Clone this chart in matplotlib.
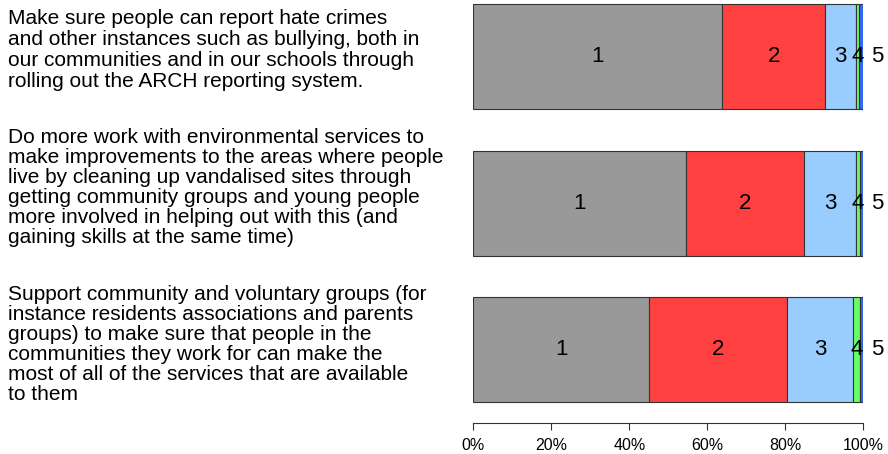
import numpy as np
import matplotlib
matplotlib.use("Agg")
import matplotlib.pyplot as plt

plt.rcParams['font.family'] = ['Liberation Sans', 'DejaVu Sans']

# Survey statements (left hand text), already wrapped like the original
statements = [
    ["Make sure people can report hate crimes",
     "and other instances such as bullying, both in",
     "our communities and in our schools through",
     "rolling out the ARCH reporting system."],
    ["Do more work with environmental services to",
     "make improvements to the areas where people",
     "live by cleaning up vandalised sites through",
     "getting community groups and young people",
     "more involved in helping out with this (and",
     "gaining skills at the same time)"],
    ["Support community and voluntary groups (for",
     "instance residents associations and parents",
     "groups) to make sure that people in the",
     "communities they work for can make the",
     "most of all of the services that are available",
     "to them"],
]

# response shares (%) for answers 1..5, one value per statement
resp1 = [63.8, 54.5, 45.1]
resp2 = [26.4, 30.4, 35.3]
resp3 = [8.0, 13.1, 16.9]
resp4 = [0.8, 1.1, 1.9]
resp5 = [1.0, 0.9, 0.8]
answer_labels = ["1", "2", "3", "4", "5"]

tick_vals = [0, 20, 40, 60, 80, 100]
tick_labels = ["0%", "20%", "40%", "60%", "80%", "100%"]

colors = ["#999999", "#ff4040", "#99ccff", "#66ff66", "#3366ff"]

fig = plt.figure(figsize=(8.88, 4.54), dpi=100)
ax = fig.add_axes([473.3 / 888, 1 - 423 / 454, 390 / 888, 423 / 454])

series = [resp1, resp2, resp3, resp4, resp5]
y = np.arange(len(statements))
left = np.zeros(len(statements))
for k, vals in enumerate(series):
    vals = np.array(vals)
    ax.barh(y, vals, left=left, height=0.717, color=colors[k],
            edgecolor="#333333", linewidth=0.8)
    for i in range(len(y)):
        xc = left[i] + vals[i] / 2
        if k == 4:
            xc = 103.5  # last label pushed out past the bar end
        ax.text(xc, y[i], answer_labels[k], ha="center", va="center",
                fontsize=16, clip_on=False)
    left += vals

ax.set_xlim(0, 100)
ax.set_ylim(2.502, -0.387)
ax.set_yticks([])
for s in ["top", "right", "left"]:
    ax.spines[s].set_visible(False)
ax.spines["bottom"].set_bounds(0, 100)
ax.spines["bottom"].set_color("#333333")
ax.set_xticks(tick_vals)
ax.set_xticklabels(tick_labels, fontsize=11.5)
ax.tick_params(axis="x", length=5, color="#333333", pad=6)

# statement text: first-line baseline and line pitch in pixels
first_baseline = [24, 143, 300]
pitch = [21, 20, 20]
for lines, b, p in zip(statements, first_baseline, pitch):
    for j, line in enumerate(lines):
        fig.text(8 / 888, 1 - (b + j * p) / 454, line, ha="left",
                 va="baseline", fontsize=15)

fig.savefig("out.png", dpi=100)
